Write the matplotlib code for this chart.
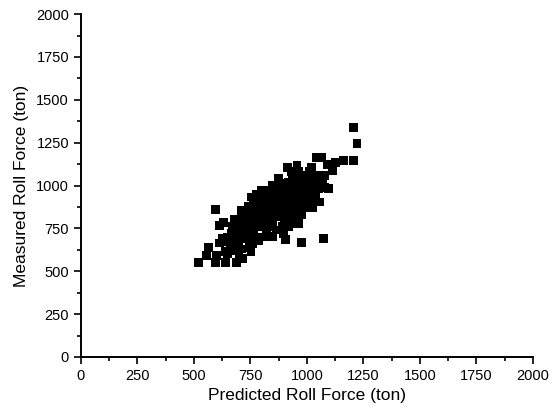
import matplotlib
matplotlib.use("Agg")
import matplotlib.pyplot as plt
from matplotlib.ticker import MultipleLocator

plt.rcParams['font.family'] = ['Liberation Sans', 'DejaVu Sans']

# Predicted (x) and measured (y) roll force, tons
predicted = [
    519, 594, 641, 688, 714, 555, 600, 565, 612, 640, 650, 700, 710, 753, 594, 631, 612, 660, 680,
    650, 665, 670, 680, 690, 700, 705, 711, 720, 715, 725, 690, 660, 700,
    730, 740, 750, 760, 735, 745, 755, 756, 765, 740, 770, 780, 790, 785, 795, 800, 800, 775, 770, 760, 785, 750, 780,
    810, 820, 830, 815, 840, 825, 845, 830, 847, 860, 850, 847, 865, 870, 860, 875, 880, 855, 835, 870, 820, 810, 840,
    886, 906, 890, 900, 910, 895, 920, 905, 930, 915, 900, 920, 913, 935, 945, 950, 940, 955, 920, 935, 956, 945, 925, 890, 960, 950, 930, 956, 900, 885, 895,
    977, 965, 975, 990, 985, 1000, 970, 990, 1010, 1020, 1000, 980, 1019, 1010, 1030, 1023, 1040, 1058, 1050, 1035, 1042, 1066, 1000, 970, 1045, 1020, 965, 1060,
    1073, 1097, 1080, 1089, 1113, 1128, 1162, 1206, 1222, 1206, 1070, 1080,
    625, 645, 675, 695, 720, 735, 755, 775, 790, 805, 825, 840, 860, 880, 895, 915, 935, 955, 975, 995,
    685, 725, 765, 800, 830, 850, 870, 890, 910, 930, 950, 980, 1005, 1030, 745, 815, 875, 905, 940, 985,
]
measured = [
    550, 550, 550, 550, 575, 590, 590, 640, 665, 615, 600, 600, 630, 612, 862, 785, 765, 640, 660,
    700, 720, 760, 800, 700, 740, 800, 856, 690, 770, 830, 650, 680, 680,
    700, 740, 680, 720, 780, 820, 860, 933, 900, 880, 780, 700, 760, 840, 880, 920, 971, 950, 820, 660, 680, 760, 880,
    700, 740, 800, 830, 850, 880, 910, 950, 1000, 960, 780, 702, 740, 820, 870, 900, 940, 820, 760, 990, 900, 780, 930,
    1010, 687, 760, 800, 840, 870, 880, 920, 940, 970, 990, 1020, 1106, 1060, 1000, 960, 900, 860, 760, 800, 808, 780, 850, 900, 920, 1040, 1080, 1115, 950, 830, 720,
    669, 780, 830, 870, 900, 930, 960, 990, 960, 1000, 1030, 1060, 1106, 1080, 1040, 871, 940, 904, 980, 1010, 1163, 1163, 880, 1000, 1060, 920, 1080, 1010,
    692, 983, 990, 1125, 1087, 1135, 1148, 1144, 1244, 1340, 1020, 1060,
    690, 670, 730, 760, 800, 760, 790, 840, 800, 860, 840, 880, 910, 870, 950, 900, 980, 940, 1020, 960,
    620, 720, 740, 900, 920, 800, 850, 880, 820, 990, 880, 920, 1000, 980, 640, 970, 1040, 860, 1030, 940,
]

xticks = [0, 250, 500, 750, 1000, 1250, 1500, 1750, 2000]
yticks = [0, 250, 500, 750, 1000, 1250, 1500, 1750, 2000]

fig = plt.figure(figsize=(5.54, 4.16), dpi=100)
ax = fig.add_axes([0.146, 0.142, 0.816, 0.824])

ax.scatter(predicted, measured, marker='s', s=40, c='black', edgecolors='none', zorder=3)

ax.set_xlim(0, 2000)
ax.set_ylim(0, 2000)
ax.set_xticks(xticks)
ax.set_yticks(yticks)
ax.xaxis.set_minor_locator(MultipleLocator(125))
ax.yaxis.set_minor_locator(MultipleLocator(125))
ax.tick_params(which='major', direction='out', length=5, width=1.2, labelsize=10.5, colors='black')
ax.tick_params(which='minor', direction='out', length=3, width=1.2)
for s in ['top', 'right']:
    ax.spines[s].set_visible(False)
for s in ['left', 'bottom']:
    ax.spines[s].set_linewidth(1.4)

ax.set_xlabel('Predicted Roll Force (ton)', fontsize=12.5, labelpad=4)
ax.set_ylabel('Measured Roll Force (ton)', fontsize=12.5, labelpad=5)

fig.savefig('out.png', dpi=100)
